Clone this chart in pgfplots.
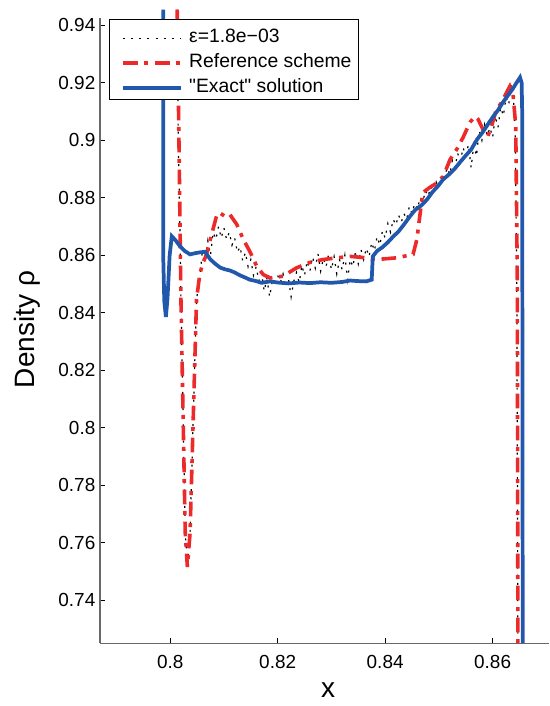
\documentclass[border=0pt]{standalone}
\usepackage{fontspec}
\setmainfont{Liberation Sans}
\newfontfamily\qfont{Liberation Sans}
\usepackage{pgfplots}
\pgfplotsset{compat=1.18}
\definecolor{exblue}{RGB}{33,88,172}
\definecolor{refred}{RGB}{236,42,42}
\definecolor{spine}{RGB}{105,105,105}

\pgfplotstableread{
x y
0.8013 0.9455
0.8015 0.9000
0.8018 0.8700
0.8020 0.8446
0.8024 0.8040
0.8028 0.7634
0.8032 0.7513
0.8037 0.7634
0.8043 0.8040
0.8049 0.8446
0.8055 0.8520
0.8060 0.8620
0.8065 0.8575
0.8070 0.8650
0.8075 0.8600
0.8080 0.8680
0.8085 0.8655
0.8090 0.8700
0.8095 0.8660
0.8100 0.8695
0.8105 0.8655
0.8110 0.8680
0.8115 0.8635
0.8120 0.8660
0.8125 0.8610
0.8130 0.8630
0.8135 0.8580
0.8140 0.8610
0.8145 0.8560
0.8150 0.8585
0.8155 0.8530
0.8160 0.8560
0.8165 0.8510
0.8170 0.8540
0.8175 0.8475
0.8180 0.8520
0.8185 0.8455
0.8190 0.8510
0.8195 0.8500
0.8200 0.8530
0.8205 0.8505
0.8210 0.8535
0.8215 0.8490
0.8220 0.8520
0.8225 0.8455
0.8230 0.8510
0.8235 0.8540
0.8240 0.8505
0.8245 0.8565
0.8250 0.8530
0.8255 0.8580
0.8260 0.8545
0.8265 0.8595
0.8270 0.8555
0.8275 0.8605
0.8280 0.8545
0.8285 0.8590
0.8290 0.8560
0.8295 0.8605
0.8300 0.8550
0.8305 0.8595
0.8310 0.8535
0.8315 0.8585
0.8320 0.8550
0.8325 0.8600
0.8330 0.8515
0.8335 0.8585
0.8340 0.8560
0.8345 0.8615
0.8350 0.8570
0.8355 0.8620
0.8360 0.8585
0.8365 0.8625
0.8370 0.8595
0.8375 0.8645
0.8380 0.8615
0.8385 0.8665
0.8390 0.8635
0.8395 0.8685
0.8400 0.8660
0.8405 0.8710
0.8410 0.8680
0.8415 0.8725
0.8420 0.8705
0.8425 0.8740
0.8430 0.8715
0.8435 0.8745
0.8440 0.8725
0.8445 0.8770
0.8450 0.8745
0.8455 0.8780
0.8460 0.8760
0.8465 0.8800
0.8470 0.8785
0.8475 0.8825
0.8480 0.8805
0.8485 0.8840
0.8490 0.8820
0.8495 0.8855
0.8500 0.8835
0.8505 0.8875
0.8510 0.8860
0.8515 0.8905
0.8520 0.8880
0.8525 0.8930
0.8530 0.8905
0.8535 0.8955
0.8540 0.8925
0.8545 0.8975
0.8550 0.8945
0.8555 0.8985
0.8560 0.8905
0.8565 0.8985
0.8570 0.8945
0.8575 0.9035
0.8580 0.9000
0.8585 0.9055
0.8590 0.9015
0.8595 0.9045
0.8600 0.9010
0.8605 0.9085
0.8610 0.9045
0.8615 0.9115
0.8620 0.9085
0.8625 0.9150
0.8630 0.9125
0.8635 0.9200
0.8638 0.9160
0.8642 0.9050
0.8645 0.8500
0.8647 0.7250
}\epsdata

\pgfplotstableread{
x y
0.8013 0.9455
0.8017 0.8900
0.8020 0.8446
0.8024 0.8040
0.8028 0.7634
0.8032 0.7515
0.8037 0.7634
0.8043 0.8040
0.8049 0.8446
0.8055 0.8533
0.8061 0.8575
0.8066 0.8595
0.8070 0.8620
0.8077 0.8672
0.8087 0.8742
0.8092 0.8748
0.8102 0.8735
0.8111 0.8742
0.8124 0.8707
0.8136 0.8655
0.8148 0.8614
0.8161 0.8562
0.8173 0.8533
0.8186 0.8521
0.8210 0.8527
0.8235 0.8556
0.8260 0.8575
0.8284 0.8585
0.8310 0.8591
0.8335 0.8596
0.8359 0.8592
0.8384 0.8585
0.8421 0.8591
0.8452 0.8603
0.8459 0.8655
0.8470 0.8818
0.8483 0.8836
0.8495 0.8850
0.8508 0.8874
0.8521 0.8934
0.8533 0.8968
0.8545 0.9010
0.8558 0.9063
0.8567 0.9083
0.8573 0.9073
0.8582 0.9038
0.8591 0.9014
0.8598 0.9049
0.8607 0.9108
0.8617 0.9132
0.8626 0.9167
0.8632 0.9188
0.8638 0.9160
0.8643 0.9050
0.8646 0.8500
0.8647 0.7250
}\refdata

\pgfplotstableread{
x y
0.7987 0.9455
0.7987 0.8600
0.7989 0.8440
0.7992 0.8385
0.7995 0.8450
0.7999 0.8600
0.8003 0.8666
0.8010 0.8652
0.8018 0.8632
0.8027 0.8615
0.8037 0.8603
0.8046 0.8607
0.8055 0.8610
0.8065 0.8612
0.8070 0.8598
0.8075 0.8585
0.8084 0.8570
0.8093 0.8557
0.8102 0.8551
0.8111 0.8547
0.8120 0.8540
0.8130 0.8530
0.8140 0.8522
0.8148 0.8515
0.8160 0.8510
0.8170 0.8504
0.8186 0.8509
0.8200 0.8505
0.8220 0.8502
0.8241 0.8505
0.8260 0.8503
0.8280 0.8506
0.8300 0.8504
0.8320 0.8507
0.8335 0.8512
0.8350 0.8510
0.8365 0.8509
0.8375 0.8515
0.8377 0.8596
0.8385 0.8615
0.8395 0.8628
0.8405 0.8645
0.8415 0.8665
0.8425 0.8683
0.8435 0.8707
0.8446 0.8735
0.8456 0.8758
0.8467 0.8773
0.8478 0.8794
0.8488 0.8820
0.8498 0.8840
0.8508 0.8864
0.8518 0.8880
0.8529 0.8900
0.8539 0.8923
0.8549 0.8945
0.8560 0.8968
0.8571 0.9003
0.8581 0.9027
0.8591 0.9055
0.8601 0.9083
0.8610 0.9105
0.8619 0.9132
0.8628 0.9155
0.8637 0.9178
0.8645 0.9202
0.8651 0.9219
0.8654 0.9200
0.8655 0.9100
0.8656 0.7250
}\exactdata

\begin{document}
\begin{tikzpicture}
\begin{axis}[
  scale only axis,
  width=336.75pt, height=468.75pt,
  xmin=0.78694, xmax=0.8705,
  ymin=0.7249, ymax=0.9425,
  axis lines*=left,
  axis line style={spine, line width=0.8pt},
  xtick={0.8,0.82,0.84,0.86},
  ytick={0.74,0.76,0.78,0.8,0.82,0.84,0.86,0.88,0.9,0.92,0.94},
  tick align=inside,
  major tick length=4pt,
  tick style={black, line width=0.6pt},
  ticklabel style={font=\fontsize{14.2}{17}\selectfont},
  /pgf/number format/assume math mode=true,
  xticklabel style={anchor=base, yshift=-18.7pt},
  xlabel={x},
  ylabel={Density ρ},
  label style={font=\fontsize{21}{25}\selectfont},
  xlabel style={at={(axis description cs:0.508,-0.0859)}, anchor=base},
  ylabel style={at={(axis description cs:-0.1448,0.502)}, anchor=base},
  clip=false,
  legend cell align=left,
  legend style={at={(axis description cs:0.0207,0.9984)}, anchor=north west,
    draw=black, line width=0.8pt, fill=white,
    inner xsep=5pt, inner ysep=1.875pt,
    font=\fontsize{14.5}{18}\selectfont,
    row sep=0pt, column sep=0pt,
    nodes={inner sep=0pt, text height=14.9pt, text depth=3.85pt, anchor=base west}},
  legend image code/.code={\path (0pt,0pt) (51.7pt,0pt); \draw[#1] (3.5pt,3pt) -- (47.2pt,3pt);},
]
\addplot[black, line width=0.9pt, dash pattern=on 1.5pt off 4.6pt] table[x=x,y=y] {\epsdata};
\addlegendentry{ε=1.8e−03}
\addplot[refred, line width=2.7pt, dash pattern=on 11pt off 5pt on 3pt off 5pt] table[x=x,y=y] {\refdata};
\addlegendentry{Reference scheme}
\addplot[exblue, line width=2.8pt] table[x=x,y=y] {\exactdata};
\addlegendentry{{\qfont "}Exact{\qfont "} solution}
\coordinate (bl) at (rel axis cs:0,0);
\coordinate (tr) at (rel axis cs:1,1);
\end{axis}
\pgfresetboundingbox
\useasboundingbox ([xshift=-75pt,yshift=-47pt]bl) rectangle ([yshift=13.7pt]tr);
\end{tikzpicture}
\end{document}
